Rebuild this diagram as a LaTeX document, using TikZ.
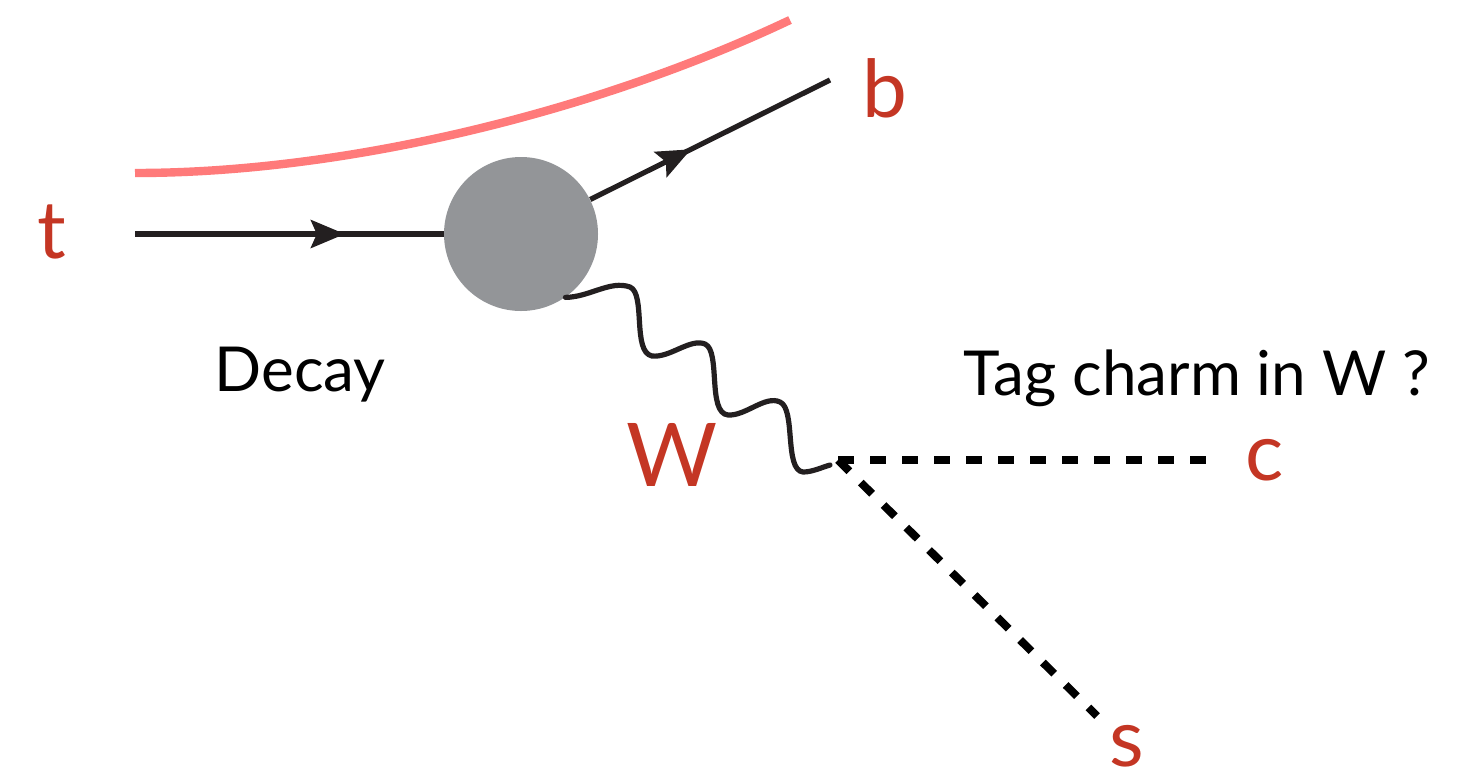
\documentclass[tikz,border=0pt]{standalone}
\usepackage{fontspec}
\setmainfont{Lato}
\usetikzlibrary{arrows.meta,decorations.markings}
\definecolor{lblred}{RGB}{196,54,36}
\definecolor{band}{RGB}{255,122,122}
\definecolor{blobgray}{RGB}{147,149,152}
\definecolor{ink}{RGB}{35,31,32}
\begin{document}
\begin{tikzpicture}[x=0.5pt,y=-0.5pt,
  fermion/.style={draw=ink, line width=2.6pt, postaction={decorate},
    decoration={markings, mark=at position #1 with {\arrow{Stealth[length=17pt,width=14pt,inset=3pt]}}}},
  boson/.style={draw=ink, line width=2.6pt, line cap=round},
  quark/.style={draw=black, line width=4pt, dash pattern=on 8pt off 8pt},
  redlbl/.style={text=lblred, inner sep=0pt, font=\fontsize{40}{40}\selectfont},
  caption/.style={text=black, inner sep=0pt, font=\fontsize{31}{36}\selectfont}]
\path[use as bounding box] (0,0) rectangle (1475,782);

% spectator band
\draw[band, line width=4.2pt] (135,173) .. controls (350,173) and (600,110) .. (790,20);

% blob
\node[circle, fill=blobgray, minimum size=154pt*0.5, inner sep=0pt] (blob) at (521,234) {};

\coordinate (tin) at (135,234);
\coordinate (bend) at (830,80);
\coordinate (v) at (838,460);
\coordinate (cend) at (1212,460);
\coordinate (send) at (1097,716);

\draw[fermion=0.68] (tin) -- (blob);
\draw[fermion=0.42] (blob) -- (bend);

% W boson
\draw[boson] (blob.-55) .. controls (590,297) and (610,280) .. (630,287)
  .. controls (646,294) and (632,352) .. (652,356)
  .. controls (670,358) and (690,338) .. (705,344)
  .. controls (721,351) and (707,413) .. (728,415)
  .. controls (746,416) and (765,395) .. (780,402)
  .. controls (796,409) and (784,470) .. (803,472)
  .. controls (812,472) and (820,468) .. (830,465);

\draw[quark] (v) -- (cend);
\draw[quark] (v) -- (send);

% labels
\node[redlbl] (lt) at (52,232) {t};
\node[redlbl] (lb) at (885,88) {b};
\node[redlbl, font=\fontsize{44}{44}\selectfont] (lW) at (672,455) {W};
\node[redlbl] (lc) at (1265,460) {c};
\node[redlbl] (ls) at (1127,746) {s};
\node[caption] (decay) at (300,375) {Decay};
\node[caption] (tag) at (1197,378) {Tag charm in W ?};
\end{tikzpicture}
\end{document}
